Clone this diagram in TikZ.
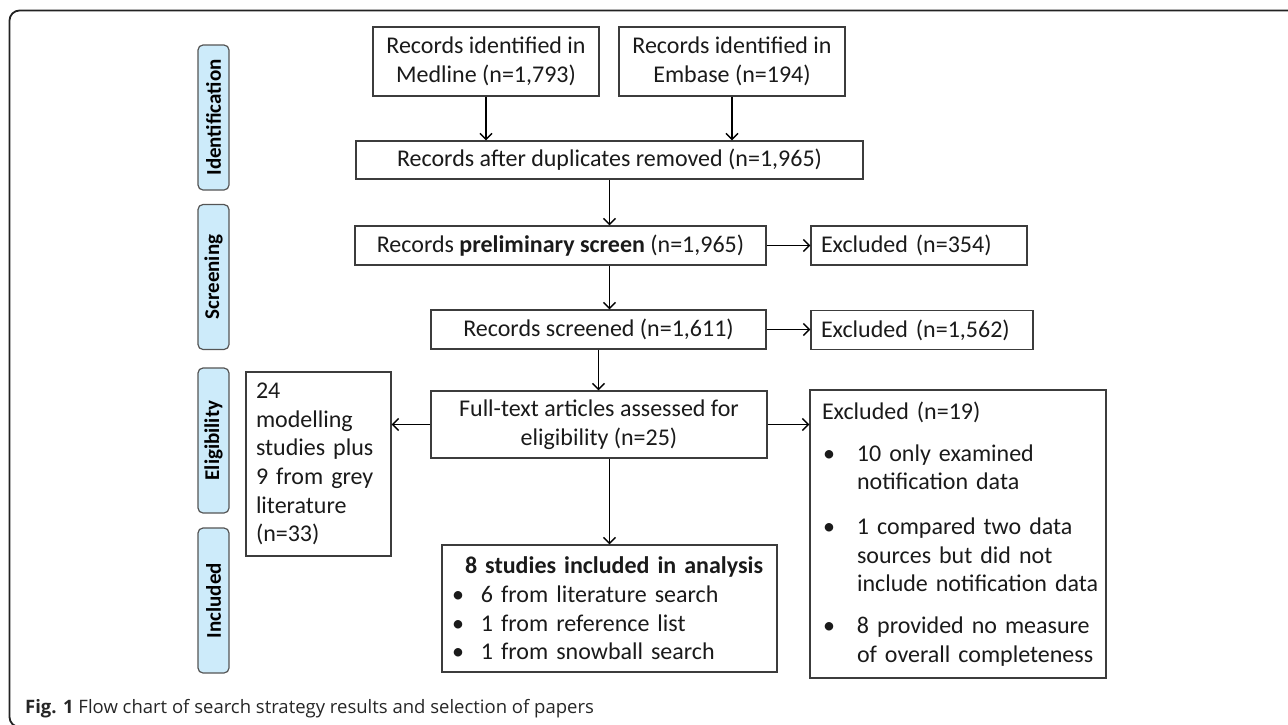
\documentclass[tikz,border=0pt]{standalone}
\usepackage{fontspec}
\setmainfont{Carlito}
\newfontfamily\capfont{Open Sans}
\usetikzlibrary{arrows.meta,calc}
\definecolor{lblfill}{HTML}{CDEBFA}
\definecolor{lbldraw}{HTML}{555555}
\definecolor{boxdraw}{HTML}{3C3C3C}
\definecolor{txt}{HTML}{1A1A1A}
\definecolor{framecol}{HTML}{222222}
\definecolor{captxt}{HTML}{262626}
\newcommand{\blt}[1]{\noindent\hangindent=35pt\hangafter=1\makebox[35pt][l]{\hspace{1pt}•}#1\par}
\begin{document}
\begin{tikzpicture}[x=1pt,y=-1pt,
  box/.style={draw=boxdraw, line width=1.2pt, text=txt, inner sep=0pt,
    font=\fontsize{24}{28.7}\selectfont, align=center},
  lbl/.style={draw=lbldraw, fill=lblfill, line width=1.2pt, rounded corners=5pt,
    minimum width=145pt, minimum height=31pt, text=black, inner sep=0pt,
    font=\fontsize{21}{24}\selectfont\bfseries, rotate=90},
  arr/.style={draw=black, line width=1.5pt,
    -{Straight Barb[length=6pt,width=12pt,line width=1.5pt]}},
]
\useasboundingbox (0,0) rectangle (1288,724);
\begin{scope}
  \clip (0,0) rectangle (1288,724);
  \draw[line width=1.8pt, draw=framecol, rounded corners=10pt]
    (1300,10.5) -- (9.5,10.5) -- (9.5,727) -- (1300,727);
\end{scope}

% stage labels
\node[lbl] (lident) at (213.5,117.5) {Identification};
\node[lbl] (lscreen) at (213.5,277) {Screening};
\node[lbl] (lelig) at (213.5,440.5) {Eligibility};
\node[lbl] (lincl) at (213.5,600.5) {Included};

% boxes
\node[box, minimum width=226pt, minimum height=69pt] (medline) at (486,61.5)
  {Records identified in\\Medline (n=1,793)};
\node[box, minimum width=226pt, minimum height=69pt] (embase) at (732,61.5)
  {Records identified in\\Embase (n=194)};
\node[box, minimum width=507pt, minimum height=38pt] (dup) at (609.5,160)
  {Records after duplicates removed (n=1,965)};
\node[box, minimum width=411pt, minimum height=39pt] (prelim) at (560.5,245.5)
  {Records \textbf{preliminary screen} (n=1,965)};
\node[box, minimum width=216pt, minimum height=39pt, text width=196pt, align=left] (excl1) at (919,245.5)
  {Excluded (n=354)};
\node[box, minimum width=335pt, minimum height=39pt] (screened) at (598.5,329.5)
  {Records screened (n=1,611)};
\node[box, minimum width=222pt, minimum height=39pt, text width=202pt, align=left] (excl2) at (922,330)
  {Excluded (n=1,562)};
\node[box, minimum width=336pt, minimum height=67pt] (fulltext) at (599,424.5)
  {Full-text articles assessed for\\eligibility (n=25)};
\node[box, minimum width=145pt, minimum height=184pt, text width=125pt, align=left] (modelling) at (318.5,464)
  {24\\modelling\\studies plus\\9 from grey\\literature\\(n=33)};
\node[box, minimum width=335pt, minimum height=127pt, text width=315pt, align=left] (studies) at (609.5,608.5)
  {\hspace*{13pt}\textbf{8 studies included in analysis}\\
   \makebox[29pt][l]{•}6 from literature search\\
   \makebox[29pt][l]{•}1 from reference list\\
   \makebox[29pt][l]{•}1 from snowball search};
\node[box, minimum width=296pt, minimum height=288pt, text width=272pt, align=left] (excl3) at (958,534)
  {\noindent Excluded (n=19)\par\vspace{13pt}
   \blt{\mbox{10 only examined}\newline\mbox{notification data}}\vspace{16pt}
   \blt{\mbox{1 compared two data}\newline\mbox{sources but did not}\newline\mbox{include notification data}}\vspace{13pt}
   \blt{\mbox{8 provided no measure}\newline\mbox{of overall completeness}}};

% connectors
\draw[arr] (medline.south) -- (medline.south |- dup.north);
\draw[arr] (embase.south) -- (embase.south |- dup.north);
\draw[arr] (dup.south) -- (dup.south |- prelim.north);
\draw[arr] (prelim.east) -- (prelim.east -| excl1.west);
\draw[arr] (dup.south |- prelim.south) -- (dup.south |- screened.north);
\draw[arr] (screened.east) -- (screened.east -| excl2.west);
\draw[arr] (screened.south) -- (screened.south |- fulltext.north);
\draw[arr] (fulltext.west) -- (fulltext.west -| modelling.east);
\draw[arr] (fulltext.east) -- (fulltext.east -| excl3.west);
\draw[arr] (studies.north |- fulltext.south) -- (studies.north);

% caption
\node[anchor=base west, inner sep=0pt, text=captxt, font=\capfont\fontsize{18.5}{23}\selectfont] (caption) at (25,713)
  {\textbf{Fig. 1} Flow chart of search strategy results and selection of papers};
\end{tikzpicture}
\end{document}
